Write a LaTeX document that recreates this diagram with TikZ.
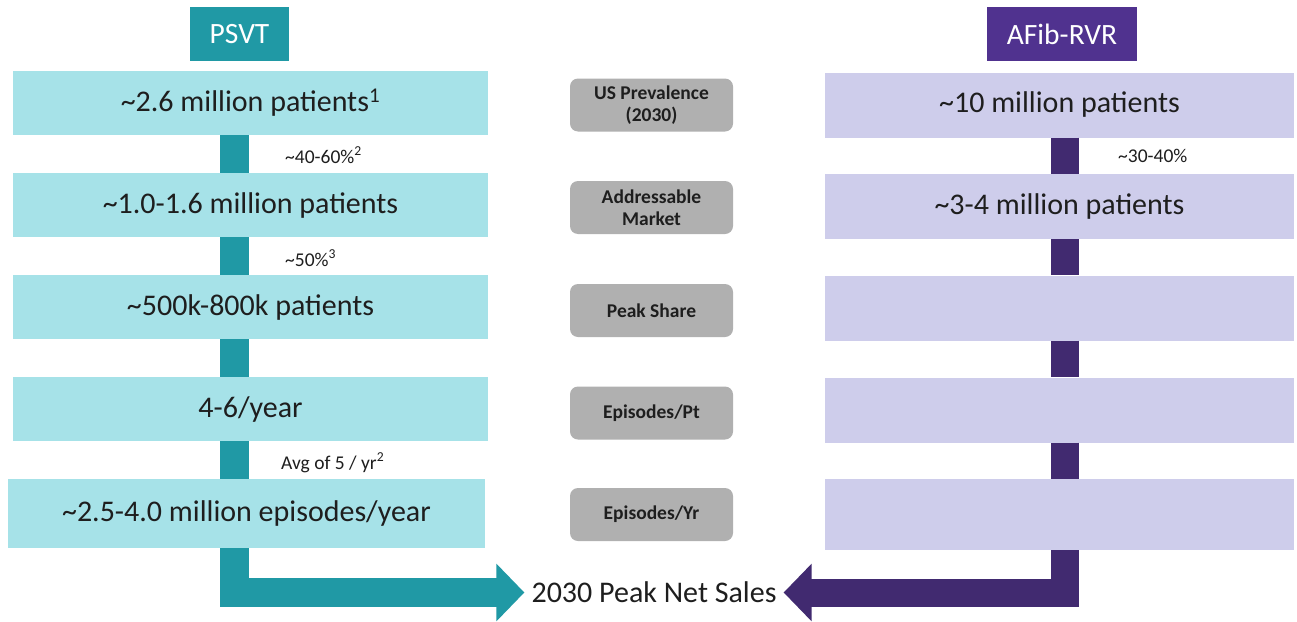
\documentclass[tikz,border=0pt]{standalone}
\usepackage{fontspec}
\setmainfont{Carlito}
\usetikzlibrary{arrows.meta}
\definecolor{tealdark}{RGB}{32,153,165}
\definecolor{teallight}{RGB}{166,226,232}
\definecolor{purphead}{RGB}{80,50,143}
\definecolor{purpbar}{RGB}{65,42,112}
\definecolor{lavender}{RGB}{206,205,235}
\definecolor{graybox}{RGB}{176,176,176}
\definecolor{txt}{RGB}{30,30,30}
\newcommand{\tld}{\textasciitilde}
\begin{document}
\begin{tikzpicture}[x=1pt,y=-1pt,
  bigtext/.style={font=\fontsize{30}{35}\selectfont},
  lbox/.style={fill=teallight, minimum width=475pt, minimum height=64pt, inner sep=0pt, text=txt, bigtext},
  rbox/.style={fill=lavender, minimum width=469pt, minimum height=65pt, inner sep=0pt, text=txt, bigtext},
  gbox/.style={fill=graybox, rounded corners=8pt, minimum width=163pt, minimum height=53pt, inner sep=0pt, text=txt, align=center, font=\fontsize{19.5}{22}\selectfont\bfseries},
  head/.style={minimum height=54pt, inner sep=0pt, text=white, font=\fontsize{29.5}{33}\selectfont},
  small/.style={anchor=west, inner sep=0pt, text=txt, font=\fontsize{19.5}{22}\selectfont},
  lbar/.style={draw=tealdark, line width=29pt},
  rbar/.style={draw=purpbar, line width=28pt},
]
\useasboundingbox (0,0) rectangle (1297,621);
\fill[white] (0,0) rectangle (1297,621);

% headers
\node[head, fill=tealdark, minimum width=99pt] (hl) at (239.5,34) {PSVT};
\node[head, fill=purphead, minimum width=150pt] (hr) at (1062,34) {AFib-RVR};

% bar x coordinates
\coordinate (lx) at (234.5,0);
\coordinate (rx) at (1065,0);

% left column
\node[lbox] (l1) at (250.5,103) {\tld 2.6 million patients\textsuperscript{1}};
\node[lbox] (l2) at (250.5,205) {\tld 1.0-1.6 million patients};
\node[lbox] (l3) at (250.5,307) {\tld 500k-800k patients};
\node[lbox] (l4) at (250.5,409) {4-6/year};
\node[lbox, minimum width=477pt, minimum height=69pt] (l5) at (246.5,513.5) {\tld 2.5-4.0 million episodes/year};

% right column
\node[rbox] (r1) at (1059.5,105) {\tld 10 million patients};
\node[rbox] (r2) at (1059.5,206.5) {\tld 3-4 million patients};
\node[rbox] (r3) at (1059.5,308) {};
\node[rbox] (r4) at (1059.5,410) {};
\node[rbox, minimum height=71pt] (r5) at (1059.5,514.5) {};

% middle labels
\node[gbox] (g1) at (651.5,105) {US Prevalence\\(2030)};
\node[gbox] (g2) at (651.5,207.5) {Addressable\\Market};
\node[gbox] (g3) at (651.5,310.5) {Peak Share};
\node[gbox] (g4) at (651.5,413) {Episodes/Pt};
\node[gbox] (g5) at (651.5,514.5) {Episodes/Yr};

% sales
\node[bigtext, text=txt, inner xsep=7pt, inner ysep=0pt] (sales) at (654,592.5) {2030 Peak Net Sales};

% left bars
\draw[lbar] (l1.south -| lx) -- (l2.north -| lx);
\draw[lbar] (l2.south -| lx) -- (l3.north -| lx);
\draw[lbar] (l3.south -| lx) -- (l4.north -| lx);
\draw[lbar] (l4.south -| lx) -- (l5.north -| lx);
\draw[lbar, line join=miter, -{Triangle[width=56pt,length=28pt]}] (l5.south -| lx) |- (sales.west);

% right bars
\draw[rbar] (r1.south -| rx) -- (r2.north -| rx);
\draw[rbar] (r2.south -| rx) -- (r3.north -| rx);
\draw[rbar] (r3.south -| rx) -- (r4.north -| rx);
\draw[rbar] (r4.south -| rx) -- (r5.north -| rx);
\draw[rbar, line join=miter, -{Triangle[width=56pt,length=28pt]}] (r5.south -| rx) |- (sales.east);

% small labels
\node[small] (p1) at (285,155) {\tld 40-60\%\textsuperscript{2}};
\node[small] (p2) at (285,258) {\tld 50\%\textsuperscript{3}};
\node[small] (p3) at (281,463) {Avg of 5 / yr\textsuperscript{2}};
\node[small] (p4) at (1118,156) {\tld 30-40\%};
\end{tikzpicture}
\end{document}
